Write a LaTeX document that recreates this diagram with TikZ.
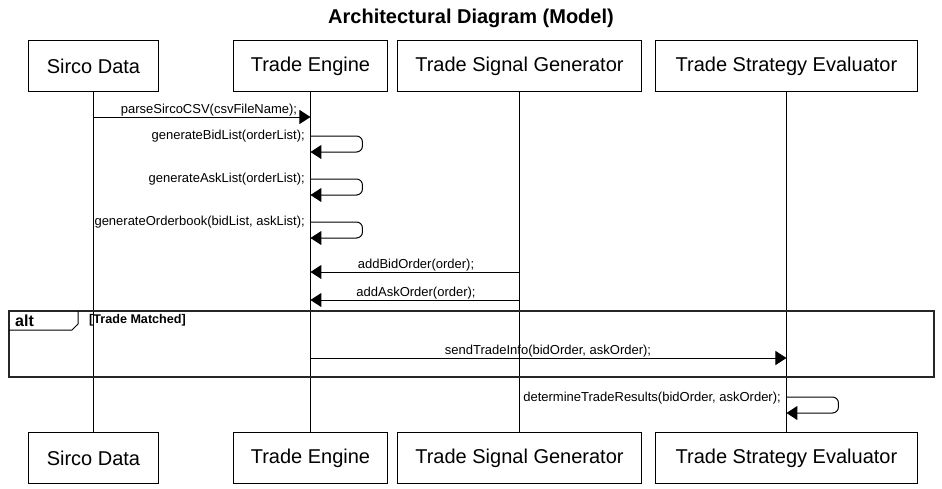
\documentclass[tikz,border=0pt]{standalone}
\usepackage{fontspec}
\setmainfont{Liberation Sans}
\usetikzlibrary{arrows.meta}
\begin{document}
\begin{tikzpicture}[x=1pt,y=-1pt,
  actor/.style={draw,line width=0.9pt,minimum height=51pt,inner sep=0pt,font=\fontsize{20}{24}\selectfont,anchor=north west},
  life/.style={line width=0.9pt},
  msg/.style={line width=1pt,-{Triangle[length=11pt,width=14pt]}},
  lbl/.style={font=\fontsize{13}{15}\selectfont,inner sep=0pt},
  selfmsg/.style={line width=1pt,rounded corners=6pt,-{Triangle[length=11pt,width=14pt]}}
]
\useasboundingbox (0,0) rectangle (942,488);
\node[font=\bfseries\fontsize{20}{24}\selectfont] (title) at (471,18) {Architectural Diagram (Model)};
% top actors
\node[actor,minimum width=130pt] (sd) at (28,40) {Sirco Data};
\node[actor,minimum width=154pt] (te) at (233,40) {Trade Engine};
\node[actor,minimum width=244pt] (tsg) at (397,40) {Trade Signal Generator};
\node[actor,minimum width=262pt] (tse) at (655,40) {Trade Strategy Evaluator};
% bottom actors
\node[actor,minimum width=130pt] (sdb) at (28,432) {Sirco Data};
\node[actor,minimum width=154pt] (teb) at (233,432) {Trade Engine};
\node[actor,minimum width=244pt] (tsgb) at (397,432) {Trade Signal Generator};
\node[actor,minimum width=262pt] (tseb) at (655,432) {Trade Strategy Evaluator};
% lifelines
\draw[life] (sd.south) -- (sdb.north);
\draw[life] (te.south) -- (teb.north);
\draw[life] (tsg.south) -- (tsgb.north);
\draw[life] (tse.south) -- (tseb.north);
% alt frame
\draw[line width=2pt,black!85] (9,311) rectangle (934,377);
\coordinate (altA) at (9,330);
\coordinate (altB) at (72,330);
\coordinate (altC) at (78,324);
\coordinate (altD) at (78,311);
\draw[line width=1pt] (altA) -- (altB) -- (altC) -- (altD);
\node[font=\bfseries\fontsize{16}{18}\selectfont,anchor=west,inner sep=0pt] (alt) at (15,320.5) {alt};
\node[font=\bfseries\fontsize{12.6}{14}\selectfont,anchor=west,inner sep=0pt] (guard) at (89,320) {[Trade Matched]};
% message coordinates
\coordinate (m1s) at (sd.south |- 0,117);
\coordinate (m1e) at (te.south |- 0,117);
\coordinate (m2s) at (te.south |- 0,136);
\coordinate (m2e) at (te.south |- 0,152);
\coordinate (m3s) at (te.south |- 0,179);
\coordinate (m3e) at (te.south |- 0,195);
\coordinate (m4s) at (te.south |- 0,222);
\coordinate (m4e) at (te.south |- 0,238);
\coordinate (m5s) at (tsg.south |- 0,272);
\coordinate (m5e) at (te.south |- 0,272);
\coordinate (m6s) at (tsg.south |- 0,300);
\coordinate (m6e) at (te.south |- 0,300);
\coordinate (m7s) at (te.south |- 0,358);
\coordinate (m7e) at (tse.south |- 0,358);
\coordinate (m8s) at (tse.south |- 0,397);
\coordinate (m8e) at (tse.south |- 0,413);
% messages
\draw[msg] (m1s) -- (m1e);
\node[lbl,anchor=base] (l1) at (209,113) {parseSircoCSV(csvFileName);};
\draw[selfmsg] (m2s) -- ++(52,0) -- ++(0,16) -- (m2e);
\node[lbl,anchor=base east] (l2) at (305,139) {generateBidList(orderList);};
\draw[selfmsg] (m3s) -- ++(52,0) -- ++(0,16) -- (m3e);
\node[lbl,anchor=base east] (l3) at (305,182) {generateAskList(orderList);};
\draw[selfmsg] (m4s) -- ++(52,0) -- ++(0,16) -- (m4e);
\node[lbl,anchor=base east] (l4) at (305,225) {generateOrderbook(bidList, askList);};
\draw[msg] (m5s) -- (m5e);
\node[lbl,anchor=base] (l5) at (416,268) {addBidOrder(order);};
\draw[msg] (m6s) -- (m6e);
\node[lbl,anchor=base] (l6) at (416,296) {addAskOrder(order);};
\draw[msg] (m7s) -- (m7e);
\node[lbl,anchor=base] (l7) at (548,354) {sendTradeInfo(bidOrder, askOrder);};
\draw[selfmsg] (m8s) -- ++(52,0) -- ++(0,16) -- (m8e);
\node[lbl,anchor=base east] (l8) at (781,401) {determineTradeResults(bidOrder, askOrder);};
\end{tikzpicture}
\end{document}
